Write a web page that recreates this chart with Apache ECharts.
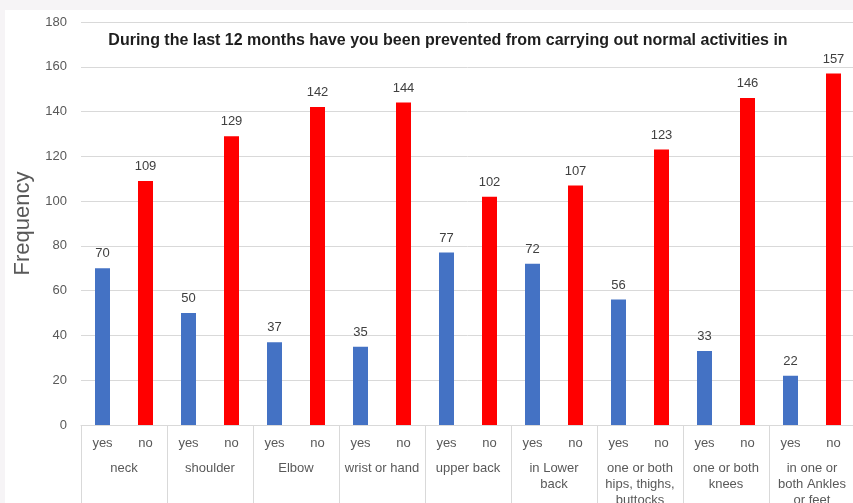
<!DOCTYPE html>
<html>
<head>
<meta charset="utf-8">
<script src="https://cdn.jsdelivr.net/npm/echarts@6/dist/echarts.min.js"></script>
<style>
  html, body { margin: 0; padding: 0; background: #f6f4f6; }
  #chart { position: absolute; left: 5px; top: 10px; width: 848px; height: 493px; background: #fff; }
</style>
</head>
<body>
<div id="chart"></div>
<script>
const groups = ['neck', 'shoulder', 'Elbow', 'wrist or hand', 'upper back', 'in Lower\nback',
  'one or both\nhips, thighs,\nbuttocks', 'one or both\nknees', 'in one or\nboth Ankles\nor feet']
const answers = ['yes', 'no']
const yesValues = [70, 50, 37, 35, 77, 72, 56, 33, 22]
const noValues = [109, 129, 142, 144, 102, 107, 123, 146, 157]
const yTicks = { min: 0, max: 180, interval: 20 }
const titleText = 'During the last 12 months have you been prevented from carrying out normal activities in'

const subCats = []
const barData = []
groups.forEach((g, i) => {
  subCats.push(answers[0], answers[1])
  barData.push({ value: yesValues[i], itemStyle: { color: '#4472c4' } })
  barData.push({ value: noValues[i], itemStyle: { color: '#ff0000' } })
})

const chart = echarts.init(document.getElementById('chart'))
const font = 'Liberation Sans, Arial, sans-serif'

chart.setOption({
  animation: false,
  textStyle: { fontFamily: font },
  title: {
    text: titleText,
    left: 438, top: 18, textAlign: 'center',
    textStyle: { fontSize: 16, fontWeight: 'bold', color: '#1e1e1e', fontFamily: font }
  },
  grid: { left: 76, right: -2, top: 12, bottom: 78, containLabel: false, outerBoundsMode: 'none' },
  xAxis: [
    {
      type: 'category',
      data: subCats,
      axisLine: { lineStyle: { color: '#d9d9d9' } },
      axisTick: { show: false },
      axisLabel: { color: '#595959', fontSize: 13, margin: 12, interval: 0 }
    },
    {
      type: 'category',
      data: groups,
      position: 'bottom',
      axisLine: { show: false },
      axisTick: { show: true, length: 80, alignWithLabel: false, lineStyle: { color: '#d9d9d9' } },
      axisLabel: { color: '#595959', fontSize: 13, margin: 35, interval: 0, lineHeight: 16, verticalAlign: 'top' }
    }
  ],
  yAxis: {
    type: 'value',
    min: yTicks.min, max: yTicks.max, interval: yTicks.interval,
    name: 'Frequency',
    nameLocation: 'middle',
    nameGap: 47,
    nameTextStyle: { fontSize: 22, color: '#595959', fontFamily: font },
    axisLine: { show: false },
    axisTick: { show: false },
    axisLabel: { color: '#595959', fontSize: 13, margin: 14 },
    splitLine: { lineStyle: { color: '#d9d9d9' } }
  },
  series: [{
    type: 'bar',
    xAxisIndex: 0,
    data: barData,
    barWidth: 15,
    label: { show: true, position: 'top', color: '#404040', fontSize: 13, distance: 8 }
  }]
})
</script>
</body>
</html>
